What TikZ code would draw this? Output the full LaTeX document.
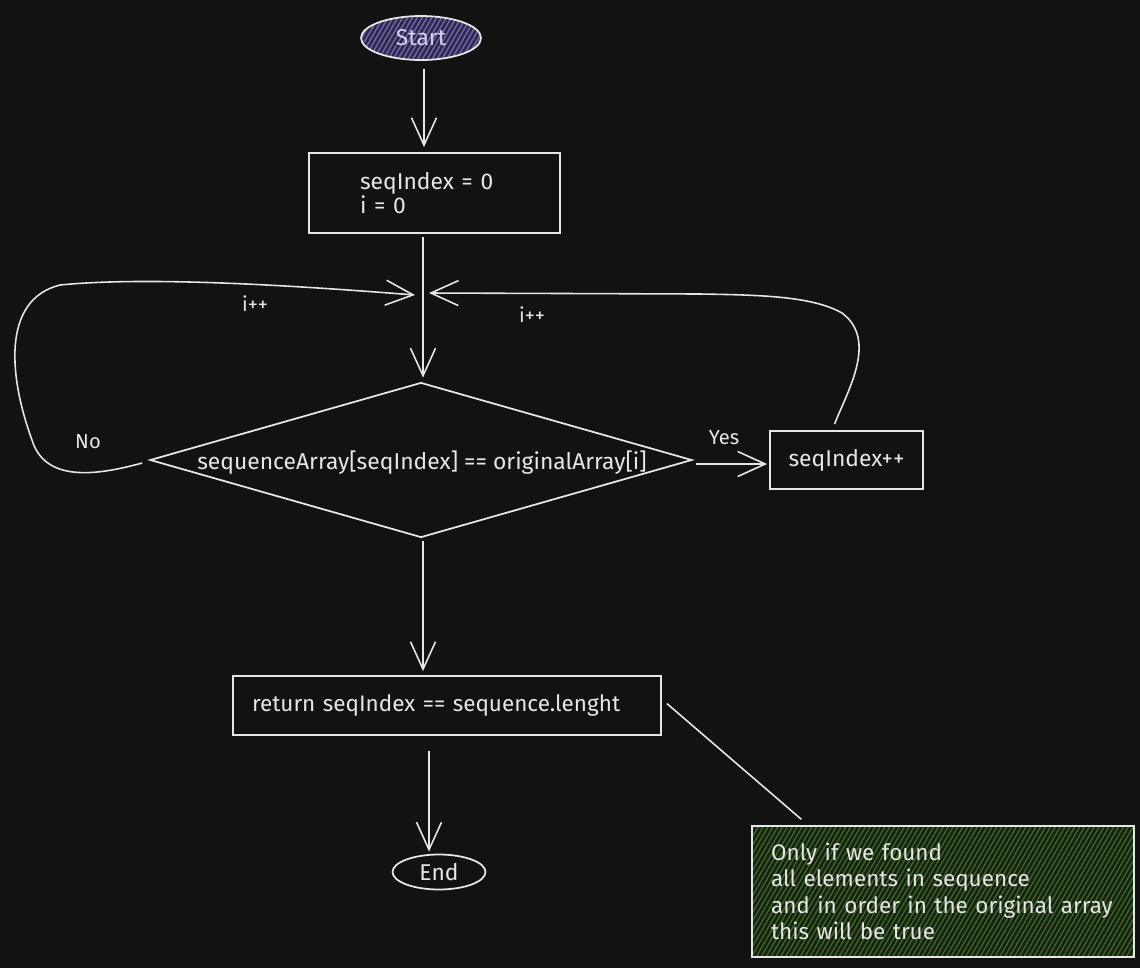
\documentclass[tikz,border=0pt]{standalone}
\usepackage{fontspec}
\setmainfont{Fira Sans}
\usetikzlibrary{shapes.geometric,arrows.meta,calc,patterns.meta}
\definecolor{bgc}{HTML}{121212}
\definecolor{ink}{HTML}{E6E6E6}
\definecolor{purpbase}{HTML}{2B2848}
\definecolor{purphatch}{HTML}{6A63A6}
\definecolor{lav}{HTML}{D6D0F7}
\definecolor{greenbase}{HTML}{16210F}
\definecolor{greenhatch}{HTML}{3C6629}
\begin{document}
\begin{tikzpicture}[x=0.02cm,y=-0.02cm,
  every node/.style={text=ink},
  box/.style={draw=ink, line width=1pt, rectangle, inner sep=0pt},
  conn/.style={draw=ink, line width=0.9pt},
  arr/.style={conn, -{Straight Barb[length=0.55cm,width=0.5cm]}},
  maintext/.style={font=\fontsize{13}{13.6}\selectfont},
  lbl/.style={font=\fontsize{11.5}{13}\selectfont},
]
\fill[bgc] (0,0) rectangle (1140,968);
\useasboundingbox (0,0) rectangle (1140,968);

% nodes
\node[ellipse, draw=ink, line width=1pt, minimum width=2.4cm, minimum height=0.88cm,
  preaction={fill=purpbase}, pattern={Lines[angle=60,distance=2.4pt,line width=0.9pt]},
  pattern color=purphatch, text=lav, maintext] (start) at (421,38) {Start};

\node[box, minimum width=5.02cm, minimum height=1.6cm, inner xsep=1.02cm,
  text width=2.98cm, align=left, maintext] (init) at (434.5,193)
  {seqIndex = 0\\i = 0};

\node[diamond, draw=ink, line width=1pt, minimum width=10.84cm, minimum height=3.1cm,
  inner sep=0pt] (dec) at (421,460) {};
\node[maintext] (dectext) at ($(dec.center)+(1,3)$) {sequenceArray[seqIndex] == originalArray[i]};

\node[box, minimum width=3.06cm, minimum height=1.16cm, maintext] (seq) at (846.5,460) {seqIndex++};

\node[box, minimum width=8.56cm, minimum height=1.18cm, inner xsep=0.38cm,
  text width=7.8cm, align=left, font=\fontsize{12.8}{15}\selectfont] (ret) at (447,705.5)
  {return seqIndex == sequence.lenght};

\node[ellipse, draw=ink, line width=1pt, minimum width=1.86cm, minimum height=0.7cm,
  inner sep=0pt, maintext] (end) at (439,872) {End};

\node[rectangle, draw=ink, line width=1pt, minimum width=7.64cm, minimum height=2.62cm,
  preaction={fill=greenbase}, pattern={Lines[angle=60,distance=2.4pt,line width=0.8pt]},
  pattern color=greenhatch, inner xsep=0.38cm, text width=6.88cm, align=left,
  font=\fontsize{12.8}{15}\selectfont] (note) at (943,891.5)
  {Only if we found\\all elements in sequence\\and in order in the original array\\this will be true};

% merge points on the vertical connector
\coordinate (mL) at (415,295);
\coordinate (mR) at (429,293);

% connectors
\draw[arr] ($(start.south)+(3,8)$) -- ($(start.south |- init.north)+(3,-5)$);
\draw[arr] ($(dec.north |- init.south)+(2,3)$) -- ($(dec.north)+(2,-4)$);
\draw[arr] ($(dec.south)+(2,3)$) -- ($(dec.south |- ret.north)+(2,-4)$);
\draw[arr] ($(ret.south)+(-18,15)$) -- ($(end.north)+(-10,-2)$);
\draw[arr] ($(dec.east)+(3,4)$) -- ($(seq.west)+(-2,4)$);

% left loop (No)
\draw[arr] ($(dec.west)+(-7,3)$) .. controls (95,476) and (45,482) .. (32,440)
  .. controls (10,380) and (0,300) .. (60,285)
  .. controls (150,276) and (300,286) .. (mL);

% right loop
\draw[arr] ($(seq.north)+(-12,-6)$) .. controls (848,390) and (878,340) .. (842,313)
  .. controls (812,296) and (760,295) .. (700,294) -- (mR);

% note connector
\draw[conn] ($(ret.east)+(5,-2)$) -- ($(note.north west)+(50,-6)$);

% labels
\node[lbl] (l1) at (255,304) {i++};
\node[lbl] (l2) at (532,315) {i++};
\node[lbl] (lno) at (88,442) {No};
\node[lbl] (lyes) at (724,438) {Yes};
\end{tikzpicture}
\end{document}
